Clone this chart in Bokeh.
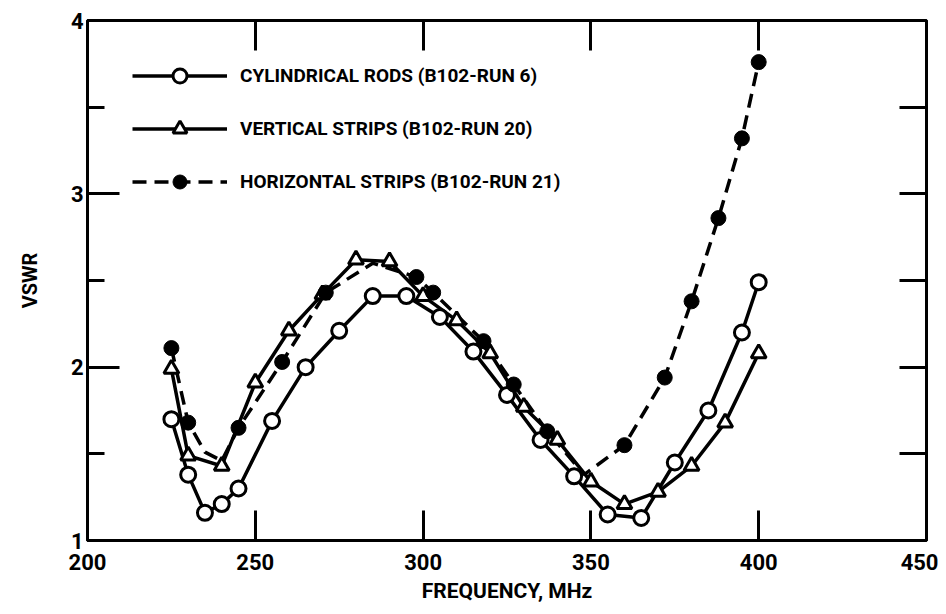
from bokeh.plotting import figure
from bokeh.models import LinearAxis, FixedTicker, Legend, LegendItem, Range1d
from bokeh.embed import file_html
from bokeh.resources import INLINE

# ---- data ----
cyl_f = [225, 230, 235, 240, 245, 255, 265, 275, 285, 295, 305, 315, 325, 335, 345, 355, 365, 375, 385, 395, 400]
cyl_v = [1.70, 1.38, 1.16, 1.21, 1.30, 1.69, 2.00, 2.21, 2.41, 2.41, 2.29, 2.09, 1.84, 1.58, 1.37, 1.15, 1.13, 1.45, 1.75, 2.20, 2.49]

vs_f = [225, 230, 240, 250, 260, 270, 280, 290, 300, 310, 320, 330, 340, 350, 360, 370, 380, 390, 400]
vs_v = [1.99, 1.49, 1.43, 1.91, 2.21, 2.42, 2.62, 2.61, 2.41, 2.27, 2.08, 1.77, 1.58, 1.34, 1.21, 1.28, 1.43, 1.68, 2.08]

hs_f = [225, 230, 245, 258, 271, 298, 303, 318, 327, 337, 360, 372, 380, 388, 395, 400]
hs_v = [2.11, 1.68, 1.65, 2.03, 2.43, 2.52, 2.43, 2.15, 1.90, 1.63, 1.55, 1.94, 2.38, 2.86, 3.32, 3.76]
# path of the dashed curve (includes its dips between markers)
hs_path_f = [225, 230, 235, 240, 245, 258, 271, 285, 298, 303, 318, 327, 337, 348, 360, 372, 380, 388, 395, 400]
hs_path_v = [2.11, 1.68, 1.51, 1.46, 1.65, 2.03, 2.43, 2.60, 2.52, 2.43, 2.15, 1.90, 1.63, 1.38, 1.55, 1.94, 2.38, 2.86, 3.32, 3.76]

labels = ["CYLINDRICAL RODS (B102-RUN 6)", "VERTICAL STRIPS (B102-RUN 20)", "HORIZONTAL STRIPS (B102-RUN 21)"]
x_ticks = [200, 250, 300, 350, 400, 450]
y_ticks = [1, 2, 3, 4]
y_minor = [1.5, 2.5, 3.5]

FONT = "Roboto"

p = figure(width=938, height=606, x_range=Range1d(200, 450), y_range=Range1d(1, 4),
           output_backend="svg", toolbar_location=None,
           min_border_left=87, min_border_right=12, min_border_top=20, min_border_bottom=66,
           x_axis_label="FREQUENCY, MHz", y_axis_label="VSWR")
p.xgrid.visible = False
p.ygrid.visible = False
p.outline_line_color = "black"
p.outline_line_width = 3
p.background_fill_color = "white"
p.border_fill_color = "white"

xa = p.xaxis[0]
xa.ticker = FixedTicker(ticks=x_ticks)
xa.major_tick_in = 30
xa.major_tick_out = 0
xa.major_tick_line_width = 3
xa.minor_tick_line_color = None
xa.axis_line_width = 3
xa.major_label_text_font = FONT
xa.major_label_text_font_style = "bold"
xa.major_label_text_font_size = "22px"
xa.major_label_text_color = "black"
xa.major_label_standoff = 13
xa.axis_label_text_font = FONT
xa.axis_label_text_font_style = "bold"
xa.axis_label_text_font_size = "21px"
xa.axis_label_text_color = "black"
xa.axis_label_standoff = 6

ya = p.yaxis[0]
ya.ticker = FixedTicker(ticks=y_ticks, minor_ticks=y_minor)
ya.major_tick_in = 32
ya.major_tick_out = 0
ya.major_tick_line_width = 3
ya.minor_tick_in = 17
ya.minor_tick_out = 0
ya.minor_tick_line_width = 3
ya.axis_line_width = 3
ya.major_label_text_font = FONT
ya.major_label_text_font_style = "bold"
ya.major_label_text_font_size = "22px"
ya.major_label_text_color = "black"
ya.major_label_standoff = 4
ya.axis_label_text_font = FONT
ya.axis_label_text_font_style = "bold"
ya.axis_label_text_font_size = "20px"
ya.axis_label_text_color = "black"
ya.axis_label_standoff = 26

top = LinearAxis(ticker=FixedTicker(ticks=[250, 300, 350, 400]),
                 major_tick_in=30, major_tick_out=0, major_tick_line_width=3,
                 minor_tick_line_color=None, axis_line_width=3,
                 major_label_overrides={250: "", 300: "", 350: "", 400: ""},
                 major_label_standoff=0)
p.add_layout(top, "above")
right = LinearAxis(ticker=FixedTicker(ticks=[1.5, 2, 2.5, 3, 3.5]),
                   major_tick_in=27, major_tick_out=0, major_tick_line_width=3,
                   minor_tick_line_color=None, axis_line_width=3,
                   major_label_overrides={1.5: "", 2: "", 2.5: "", 3: "", 3.5: ""},
                   major_label_standoff=0)
p.add_layout(right, "right")

l1 = p.line(cyl_f, cyl_v, line_color="black", line_width=3.5)
l2 = p.line(vs_f, vs_v, line_color="black", line_width=3.5)
l3 = p.line(hs_path_f, hs_path_v, line_color="black", line_width=3.5, line_dash="14 8")
s1 = p.scatter(cyl_f, cyl_v, marker="circle", size=15, fill_color="white", line_color="black", line_width=3)
s2 = p.scatter(vs_f, vs_v, marker="triangle", size=15, fill_color="white", line_color="black", line_width=3)
s3 = p.scatter(hs_f, hs_v, marker="circle", size=15, fill_color="black", line_color="black", line_width=1)

legend = Legend(items=[LegendItem(label=labels[0], renderers=[l1, s1]),
                       LegendItem(label=labels[1], renderers=[l2, s2]),
                       LegendItem(label=labels[2], renderers=[l3, s3])],
                location=(45, 341), glyph_width=95, glyph_height=35, label_height=35,
                spacing=18, padding=0, margin=0, border_line_color=None,
                background_fill_alpha=0, label_standoff=13,
                label_text_font=FONT, label_text_font_style="bold", label_text_font_size="19px",
                label_text_color="black")
p.add_layout(legend)

open("out.html", "w").write(file_html(p, INLINE))
